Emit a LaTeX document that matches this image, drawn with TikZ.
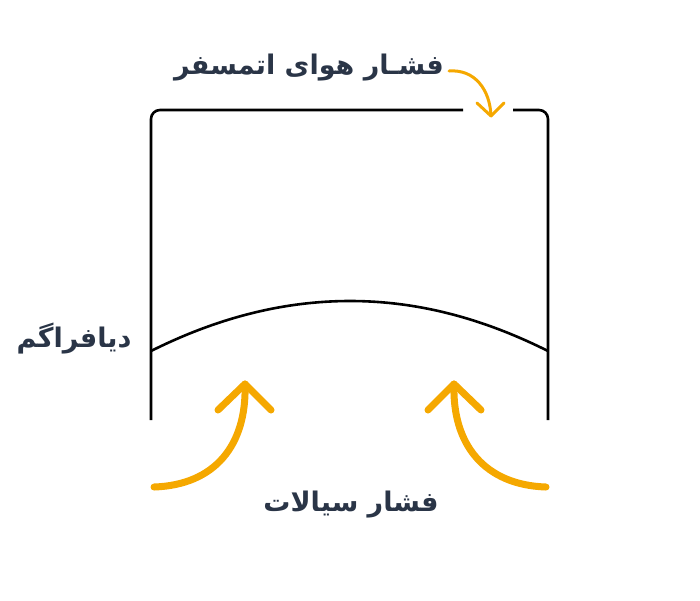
\documentclass[tikz,border=0pt]{standalone}
\usepackage{fontspec}
\newfontfamily\arabicfont[Script=Arabic]{DejaVu Sans}
\TeXXeTstate=1
\definecolor{txt}{HTML}{2A3547}
\definecolor{org}{HTML}{F5A800}
\tikzset{
  lbl/.style={font=\arabicfont\bfseries\fontsize{27}{32}\selectfont, text=txt, inner sep=0pt},
  wall/.style={draw=black, line width=2.6pt},
  bigarrow/.style={draw=org, line width=7pt, line cap=round, line join=round},
  smallarrow/.style={draw=org, line width=3pt, line cap=round, line join=round}
}
\begin{document}
\begin{tikzpicture}[x=1pt,y=-1pt]
\useasboundingbox (0,0) rectangle (700,600);
% labels
\node[lbl] (top) at (309,68) {\beginR فشـار هوای اتمسفر\endR};
\node[lbl] (diaph) at (74,339) {\beginR دیافراگم\endR};
\node[lbl] (fluid) at (351,505) {\beginR فشار سیالات\endR};
% container
\coordinate (gl) at (463,110);
\coordinate (gr) at (513,110);
\draw[wall, rounded corners=9pt] (151,420) -- (151,110) -- (gl);
\draw[wall, rounded corners=9pt] (gr) -- (548,110) -- (548,420);
% diaphragm
\coordinate (dl) at (151,351);
\coordinate (dr) at (548,351);
\draw[wall] (dl) .. controls (217,318) and (283,301) .. (350,301) .. controls (417,301) and (482,318) .. (dr);
% top arrow
\coordinate (ta) at (449,71);
\coordinate (tb) at (491,116);
\draw[smallarrow] (ta) .. controls (475,69) and (490,90) .. (tb);
\draw[smallarrow] (477,103) -- (tb) -- (504,103);
% left big arrow
\coordinate (la) at (154,487);
\coordinate (lb) at (245,384);
\draw[bigarrow] (la) .. controls (215,485) and (247,445) .. (lb);
\draw[bigarrow] (218,410) -- (lb) -- (271,410);
% right big arrow
\coordinate (ra) at (546,487);
\coordinate (rb) at (454,384);
\draw[bigarrow] (ra) .. controls (485,485) and (452,445) .. (rb);
\draw[bigarrow] (428,410) -- (rb) -- (481,410);
\end{tikzpicture}
\end{document}
